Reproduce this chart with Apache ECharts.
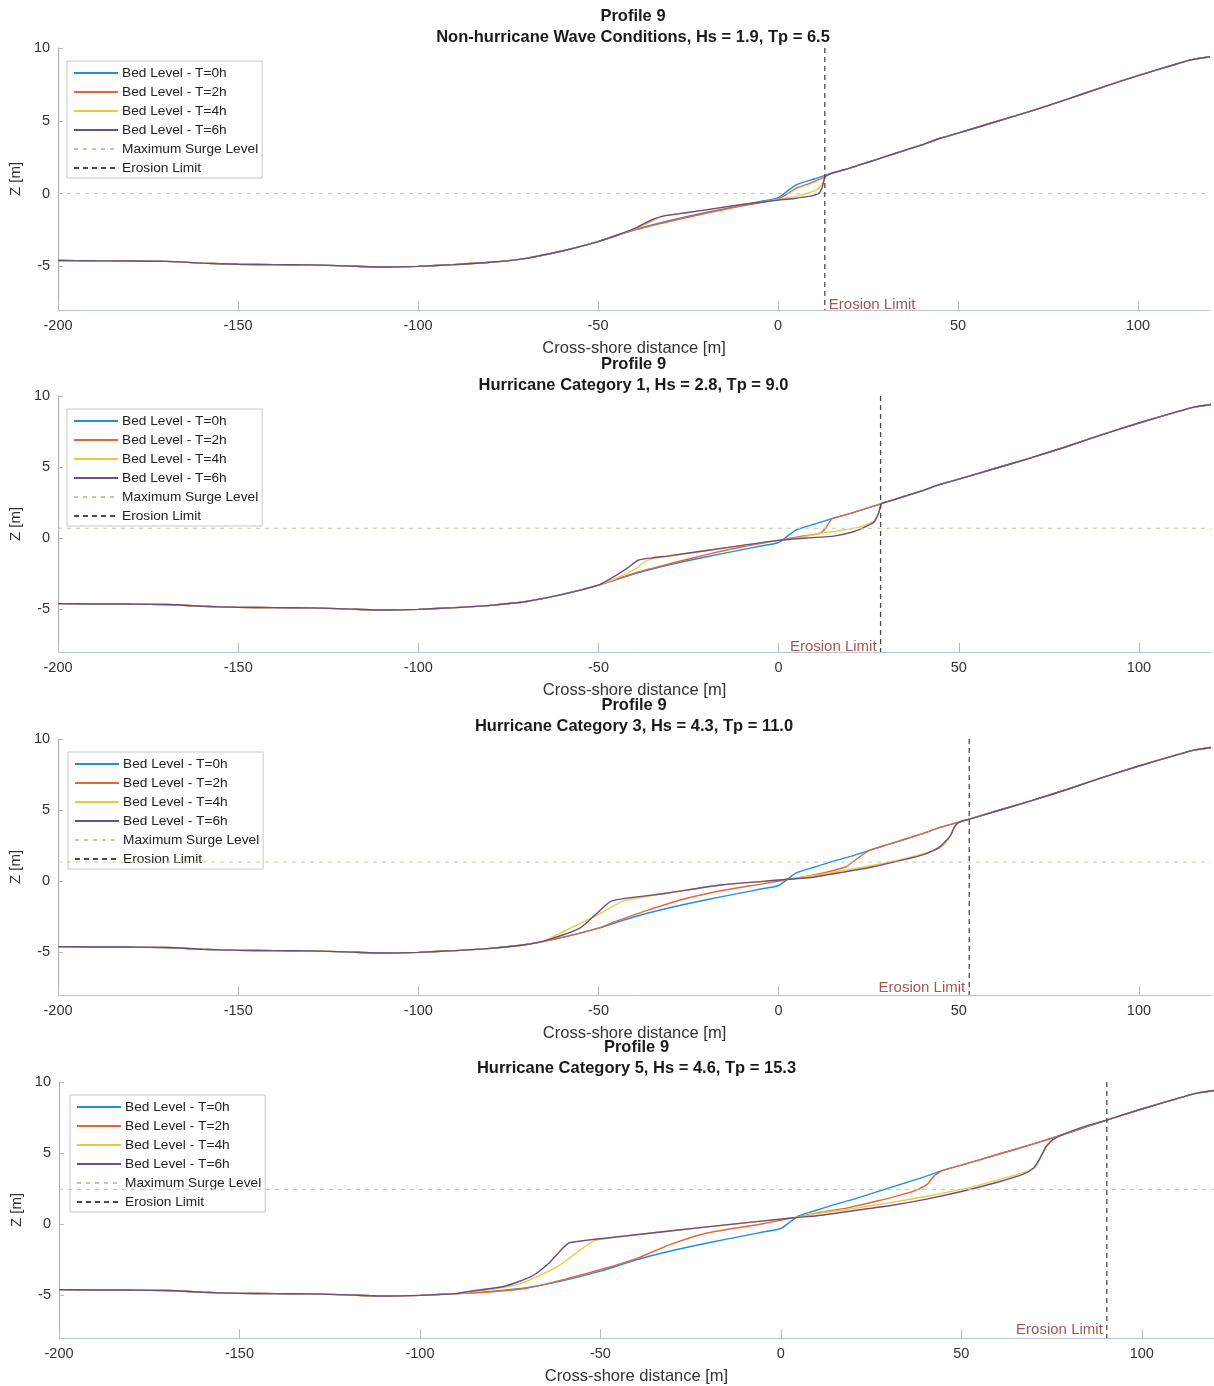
<!DOCTYPE html>
<html>
<head>
<meta charset="utf-8">
<script src="https://cdn.jsdelivr.net/npm/echarts@6/dist/echarts.min.js"></script>
<style>html,body{margin:0;padding:0;background:#fff}#c{width:1214px;height:1386px}</style>
</head>
<body>
<div id="c"></div>
<script>
// ---------------- data ----------------
const X_MIN = -200, X_MAX = 120, Z_MIN = -8, Z_MAX = 10;
const X_TICKS = [-200, -150, -100, -50, 0, 50, 100];
const Z_TICKS = [-5, 0, 5, 10];
const SERIES_NAMES = ['Bed Level - T=0h', 'Bed Level - T=2h', 'Bed Level - T=4h', 'Bed Level - T=6h', 'Maximum Surge Level', 'Erosion Limit'];
const PANEL_TITLE = 'Profile 9';
const PANEL_SUBTITLES = [
  'Non-hurricane Wave Conditions, Hs = 1.9, Tp = 6.5',
  'Hurricane Category 1, Hs = 2.8, Tp = 9.0',
  'Hurricane Category 3, Hs = 4.3, Tp = 11.0',
  'Hurricane Category 5, Hs = 4.6, Tp = 15.3'
];
const SURGE_LEVEL = [0.0, 0.7, 1.35, 2.45];
const EROSION_LIMIT_X = [13, 28.3, 52.9, 90.3];

// initial bed profile (T=0h), identical for all conditions
const PROFILE_X = [-200,-190,-180,-170,-160,-150,-140,-130,-120,-110,-100,-90,-80,-70,-60,-50,-40,-30,-20,-10,-5,0,3,5,10,15,20,25,30,35,40,45,50,60,70,80,90,100,110,115,120];
const PROFILE_Z_T0 = [-4.6,-4.62,-4.63,-4.66,-4.78,-4.86,-4.88,-4.9,-4.97,-5.05,-5.0,-4.88,-4.72,-4.45,-3.95,-3.3,-2.5,-1.85,-1.3,-0.8,-0.55,-0.3,0.25,0.6,1.0,1.4,1.75,2.15,2.55,2.95,3.35,3.8,4.15,4.9,5.65,6.45,7.3,8.1,8.85,9.2,9.4];

// reshaped reaches of the profile ([x, z]); outside these the bed equals T=0h
const P1_T2 = [[-45,-2.88],[-35,-2.2],[-20,-1.35],[-10,-0.85],[0,-0.38],[5,0.35],[9,0.72],[13,1.15]];
const P1_T4 = [[-45,-2.88],[-38,-2.25],[-34,-1.78],[-31,-1.5],[-25,-1.3],[-20,-1.12],[-10,-0.75],[0,-0.42],[5,-0.18],[9,0.08],[11.5,0.4],[12.5,0.8],[13,1.15]];
const P1_T6 = [[-45,-2.88],[-39,-2.3],[-35,-1.8],[-32,-1.55],[-25,-1.3],[-20,-1.12],[-10,-0.75],[0,-0.45],[5,-0.32],[9,-0.18],[11.5,0.05],[12.3,0.45],[12.8,0.9],[13,1.15]];

const P2_T2 = [[-50,-3.3],[-40,-2.45],[-30,-1.78],[-20,-1.15],[-10,-0.6],[0,-0.15],[6,0.12],[11.5,0.35],[13,0.7],[14.5,1.3]];
const P2_T4 = [[-50,-3.3],[-45,-2.8],[-40,-2.2],[-37,-1.62],[-35,-1.45],[-30,-1.25],[-20,-0.88],[-10,-0.5],[0,-0.15],[5,0.02],[10.7,0.3],[16,0.5],[22.7,0.8],[26.4,1.2],[27.6,1.7],[28.5,2.43]];
const P2_T6 = [[-50,-3.3],[-47,-2.9],[-42,-2.1],[-39,-1.55],[-35,-1.38],[-30,-1.22],[-20,-0.86],[-10,-0.5],[0,-0.15],[8,0.02],[15.3,0.15],[20,0.4],[23.6,0.75],[26.4,1.12],[27.8,1.8],[28.5,2.43]];

const P3_T2 = [[-46,-2.9],[-36.5,-2.05],[-27,-1.3],[-15,-0.62],[-5,-0.2],[1,0.05],[10.4,0.47],[18.7,1.02],[20.8,1.4],[25,2.15]];
const P3_T4 = [[-65,-4.2],[-59.4,-3.5],[-50.5,-2.4],[-43,-1.38],[-31,-0.85],[-15.6,-0.25],[1,0.1],[10,0.4],[20,0.85],[30,1.3],[40,1.92],[44.8,2.35],[47,2.9],[48.5,3.7],[50.3,4.15],[53,4.37]];
const P3_T6 = [[-65,-4.2],[-55.2,-3.3],[-50,-2.15],[-46.3,-1.38],[-31.2,-0.85],[-15.6,-0.25],[1,0.1],[10,0.3],[17,0.6],[26,1.0],[35.4,1.55],[40,1.85],[44.6,2.4],[47.8,3.24],[48.8,3.83],[50.1,4.15],[53,4.37]];

const P4_T2 = [[-90,-4.88],[-80,-4.75],[-70.4,-4.5],[-60,-3.88],[-49.4,-3.15],[-39.5,-2.36],[-30.9,-1.45],[-21,-0.65],[-6.2,-0.02],[3.7,0.46],[10,0.8],[18.5,1.15],[27,1.65],[33,2.05],[37,2.35],[40.5,2.8],[42.5,3.4],[44.5,3.75]];
const P4_T4 = [[-86,-4.75],[-80.2,-4.6],[-71.6,-4.13],[-61.7,-2.95],[-51.9,-1.19],[-43.2,-0.83],[-18.5,-0.13],[3.7,0.46],[10,0.75],[20,1.1],[30,1.5],[40,1.95],[50,2.45],[60,3.1],[68,3.7],[70.5,4.0],[71.8,4.6],[73.6,5.5],[76,6.05],[80,6.5],[84.5,6.9],[88,7.15]];
const P4_T6 = [[-90,-4.88],[-86.4,-4.72],[-76.5,-4.36],[-69.1,-3.66],[-64.2,-2.72],[-60.5,-1.7],[-58.6,-1.3],[-43.2,-0.83],[-18.5,-0.13],[3.7,0.46],[10,0.6],[20,0.95],[30,1.3],[40,1.75],[50,2.3],[60,2.95],[67,3.5],[70,3.95],[71.7,4.6],[73.6,5.5],[76,6.05],[80,6.5],[84.5,6.9],[88,7.15]];

const PANEL_REACHES = [[P1_T2, P1_T4, P1_T6], [P2_T2, P2_T4, P2_T6], [P3_T2, P3_T4, P3_T6], [P4_T2, P4_T4, P4_T6]];

// ---------------- styling / layout ----------------
const COLORS = ['#1f8fe0', '#e4673a', '#f0c93a', '#6b4c8c'];
const SURGE_COLOR = '#b5cfa8';
const EROSION_COLOR = '#4a4a4a';
const EROSION_TEXT = '#8f2b2b';
const FONT = '"Liberation Sans", Arial, Helvetica, sans-serif';
const GRIDS = [
  {left: 56, top: 48, width: 1154, height: 262},
  {left: 56, top: 396, width: 1155, height: 256},
  {left: 57, top: 739, width: 1154, height: 256},
  {left: 59, top: 1082, width: 1155, height: 257}
];
const TITLE_TOPS = [6, 354, 695, 1037];
const LABEL_SIDE = ['right', 'left', 'left', 'left'];
const LABEL_OFFSET = [-5, -5, -7, -8];

const T0 = PROFILE_X.map((x, i) => [x, PROFILE_Z_T0[i]]);
function withReach(reach) {
  const a = reach[0][0], b = reach[reach.length - 1][0];
  return T0.filter(p => p[0] < a).concat(reach, T0.filter(p => p[0] > b));
}

const option = {
  animation: false,
  backgroundColor: '#fff',
  textStyle: {fontFamily: FONT},
  title: [], grid: [], xAxis: [], yAxis: [], legend: [], series: []
};

GRIDS.forEach((g, i) => {
  option.grid.push(Object.assign({containLabel: false}, g));
  option.title.push({
    text: PANEL_TITLE + '\n' + PANEL_SUBTITLES[i],
    left: g.left + g.width / 2, top: TITLE_TOPS[i], textAlign: 'center', padding: 0,
    textStyle: {fontSize: 16.5, fontWeight: 'bold', color: '#1a1a1a', lineHeight: 21, fontFamily: FONT}
  });
  option.xAxis.push({
    type: 'value', gridIndex: i, min: X_MIN, max: X_MAX,
    name: 'Cross-shore distance [m]', nameLocation: 'middle', nameGap: 30,
    nameTextStyle: {fontSize: 16.5, color: '#333', fontFamily: FONT},
    axisLine: {show: true, onZero: false, lineStyle: {color: '#b8c2d0', width: 1}},
    axisTick: {show: true, inside: true, length: 9, customValues: X_TICKS, lineStyle: {color: '#bbb'}},
    axisLabel: {customValues: X_TICKS, fontSize: 14.5, color: '#333', margin: 8, fontFamily: FONT},
    splitLine: {show: false}
  });
  option.yAxis.push({
    type: 'value', gridIndex: i, min: Z_MIN, max: Z_MAX,
    name: 'Z [m]', nameLocation: 'middle', nameGap: 30, nameRotate: 90,
    nameTextStyle: {fontSize: 15, color: '#333', fontFamily: FONT},
    axisLine: {show: true, onZero: false, lineStyle: {color: '#aaa', width: 1}},
    axisTick: {show: true, inside: true, length: 5, customValues: Z_TICKS, lineStyle: {color: '#bbb'}},
    axisLabel: {customValues: Z_TICKS, fontSize: 14.5, color: '#333', margin: 8, fontFamily: FONT},
    splitLine: {show: false}
  });
  option.legend.push({
    data: SERIES_NAMES, orient: 'vertical', align: 'left',
    left: g.left + 11, top: g.top + 13,
    itemWidth: 44, itemHeight: 14, itemGap: 3,
    padding: [4, 4, 2, 6],
    borderColor: '#c8c8c8', borderWidth: 1, backgroundColor: '#fff',
    itemStyle: {opacity: 0},
    textStyle: {fontSize: 13.7, lineHeight: 16, color: '#222', fontFamily: FONT, padding: [0, 0, 0, -1]},
    selectedMode: false
  });
  const series = [T0].concat(PANEL_REACHES[i].map(withReach));
  series.forEach((data, k) => {
    option.series.push({
      type: 'line', name: SERIES_NAMES[k], xAxisIndex: i, yAxisIndex: i,
      data: data, symbol: 'none', smooth: 0.2, clip: true,
      lineStyle: {color: COLORS[k], width: 1.4}, itemStyle: {color: COLORS[k]}, z: 2 + k
    });
  });
  option.series.push({
    type: 'line', name: SERIES_NAMES[4], xAxisIndex: i, yAxisIndex: i,
    data: [[X_MIN, SURGE_LEVEL[i]], [X_MAX, SURGE_LEVEL[i]]], symbol: 'none',
    lineStyle: {color: SURGE_COLOR, width: 1, type: [4, 5]}, itemStyle: {color: SURGE_COLOR}, z: 7
  });
  option.series.push({
    type: 'line', name: SERIES_NAMES[5], xAxisIndex: i, yAxisIndex: i,
    data: [[EROSION_LIMIT_X[i], Z_MAX], [EROSION_LIMIT_X[i], Z_MIN]], symbol: 'none',
    lineStyle: {color: EROSION_COLOR, width: 1.3, type: [5, 4]}, itemStyle: {color: EROSION_COLOR}, z: 8
  });
  option.series.push({
    type: 'scatter', name: 'Erosion Limit label', xAxisIndex: i, yAxisIndex: i,
    data: [[EROSION_LIMIT_X[i], Z_MIN]], symbolSize: 0, silent: true, z: 9,
    label: {
      show: true, formatter: 'Erosion Limit', position: LABEL_SIDE[i], distance: 4,
      offset: [0, LABEL_OFFSET[i]], fontSize: 15, color: EROSION_TEXT, fontFamily: FONT
    }
  });
});

const chart = echarts.init(document.getElementById('c'), null, {renderer: 'canvas'});
chart.setOption(option);
</script>
</body>
</html>
